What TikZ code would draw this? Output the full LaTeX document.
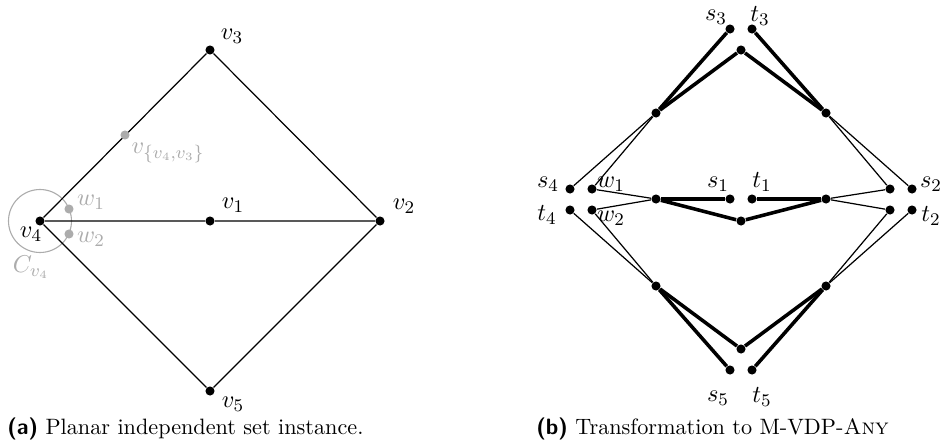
\documentclass[tikz,border=0pt]{standalone}
\definecolor{lg}{RGB}{172,172,172}
\tikzset{
  x=0.45pt, y=-0.45pt,
  dot/.style={circle, fill=black, inner sep=0pt, minimum size=4.1pt},
  gdot/.style={circle, fill=lg, inner sep=0pt, minimum size=4.1pt},
  lbl/.style={inner sep=0pt, anchor=center, font=\fontsize{11}{13}\selectfont},
  glbl/.style={lbl, text=lg},
  thinl/.style={line width=0.55pt},
  thickl/.style={line width=1.6pt},
  captxt/.style={inner sep=0pt, anchor=base west}
}
\begin{document}
\begin{tikzpicture}
\useasboundingbox (0,0) rectangle (945,446);
% ---------- (a) ----------
\node[dot] (v3) at (210,50) {};
\node[dot] (v4) at (40,221) {};
\node[dot] (v1) at (210,221) {};
\node[dot] (v2) at (380,221) {};
\node[dot] (v5) at (210,391) {};
\draw[lg, line width=0.5pt] (v4.center) circle[radius=31.5];
\draw[thinl] (v4) -- (v3) -- (v2) -- (v5) -- (v4) -- (v1) -- (v2);
\node[gdot] (vv) at (125,135) {};
\node[gdot] (aw1) at (69,209) {};
\node[gdot] (aw2) at (69,234) {};
\node[lbl] (lv3) at (232,36) {$v_3$};
\node[lbl] (lv1) at (233,205) {$v_1$};
\node[lbl] (lv2) at (404,206) {$v_2$};
\node[lbl] (lv5) at (233,404) {$v_5$};
\node[lbl] (lv4) at (31,234) {$v_4$};
\node[glbl] (law1) at (91,202) {$w_1$};
\node[glbl] (law2) at (91,239) {$w_2$};
\node[glbl] (lC) at (31,267) {$C_{v_4}$};
\node[glbl] (lvv) at (168,153) {$v_{\{v_4,v_3\}}$};
\node[captxt] (capa) at (7,434) {\textsf{\bfseries (a)} Planar independent set instance.};
% ---------- (b) ----------
\node[dot] (s3) at (730,29) {};
\node[dot] (t3) at (752,29) {};
\node[dot] (T) at (741,50) {};
\node[dot] (UL) at (656,113) {};
\node[dot] (UR) at (826,113) {};
\node[dot] (s4) at (570,189) {};
\node[dot] (w1) at (592,189) {};
\node[dot] (t4) at (570,210) {};
\node[dot] (w2) at (592,210) {};
\node[dot] (ML) at (656,199) {};
\node[dot] (s1) at (730,199) {};
\node[dot] (t1) at (752,199) {};
\node[dot] (MB) at (741,221) {};
\node[dot] (MR) at (826,199) {};
\node[dot] (r1) at (890,189) {};
\node[dot] (s2) at (912,189) {};
\node[dot] (r2) at (890,210) {};
\node[dot] (t2) at (912,210) {};
\node[dot] (LL) at (656,286) {};
\node[dot] (LR) at (826,286) {};
\node[dot] (B) at (741,349) {};
\node[dot] (s5) at (730,370) {};
\node[dot] (t5) at (752,370) {};
% thick
\draw[thickl] (UL) -- (s3);
\draw[thickl] (UL) -- (T) -- (UR);
\draw[thickl] (t3) -- (UR);
\draw[thickl] (ML) -- (s1);
\draw[thickl] (ML) -- (MB) -- (MR);
\draw[thickl] (t1) -- (MR);
\draw[thickl] (LL) -- (s5);
\draw[thickl] (LL) -- (B) -- (LR);
\draw[thickl] (t5) -- (LR);
% thin
\draw[thinl] (s4) -- (UL);
\draw[thinl] (w1) -- (UL);
\draw[thinl] (UR) -- (r1);
\draw[thinl] (UR) -- (s2);
\draw[thinl] (w1) -- (ML);
\draw[thinl] (w2) -- (ML);
\draw[thinl] (MR) -- (r1);
\draw[thinl] (MR) -- (r2);
\draw[thinl] (t4) -- (LL);
\draw[thinl] (w2) -- (LL);
\draw[thinl] (LR) -- (r2);
\draw[thinl] (LR) -- (t2);
% labels
\node[lbl] (ls3) at (716,17) {$s_3$};
\node[lbl] (lt3) at (760,16) {$t_3$};
\node[lbl] (ls4) at (548,184) {$s_4$};
\node[lbl] (lt4) at (547,215) {$t_4$};
\node[lbl] (lw1) at (611,184) {$w_1$};
\node[lbl] (lw2) at (611,218) {$w_2$};
\node[lbl] (ls1) at (718,184) {$s_1$};
\node[lbl] (lt1) at (762,182) {$t_1$};
\node[lbl] (ls2) at (931,184) {$s_2$};
\node[lbl] (lt2) at (931,216) {$t_2$};
\node[lbl] (ls5) at (718,398) {$s_5$};
\node[lbl] (lt5) at (762,397) {$t_5$};
\node[captxt] (capb) at (536,434) {\textsf{\bfseries (b)} Transformation to M-VDP-\textsc{Any}};
\end{tikzpicture}
\end{document}
